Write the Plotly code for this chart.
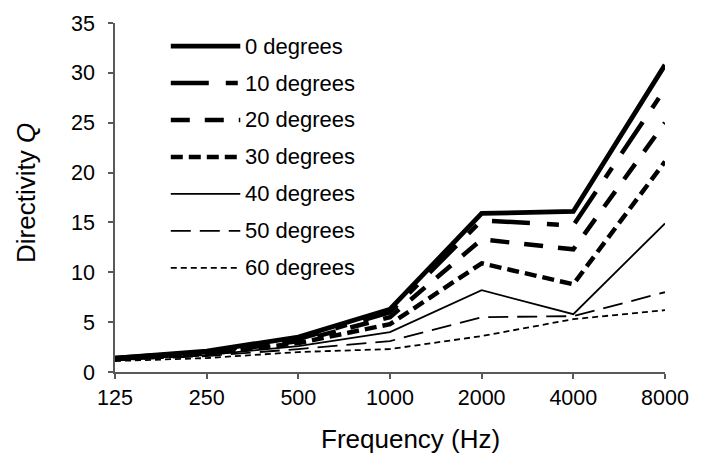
import plotly.graph_objects as go

freqs = ["125", "250", "500", "1000", "2000", "4000", "8000"]
names = ["0 degrees", "10 degrees", "20 degrees", "30 degrees",
         "40 degrees", "50 degrees", "60 degrees"]
q0 = [1.4, 2.1, 3.5, 6.3, 15.9, 16.1, 30.8]
q10 = [1.4, 2.0, 3.3, 6.0, 15.2, 14.7, 28.4]
q20 = [1.35, 1.9, 3.1, 5.5, 13.3, 12.3, 25.0]
q30 = [1.3, 1.8, 2.9, 4.8, 10.9, 8.8, 21.1]
q40 = [1.25, 1.7, 2.6, 4.0, 8.2, 5.8, 14.9]
q50 = [1.2, 1.6, 2.3, 3.1, 5.5, 5.6, 8.0]
q60 = [1.1, 1.4, 2.0, 2.3, 3.6, 5.3, 6.2]
series = [q0, q10, q20, q30, q40, q50, q60]
y_ticks = [0, 5, 10, 15, 20, 25, 30, 35]

styles = [
    dict(width=4.8, dash="solid"),
    dict(width=4.5, dash="38px,17px,12px,17px"),
    dict(width=4.5, dash="19px,15px"),
    dict(width=4.5, dash="12px,6px"),
    dict(width=1.8, dash="solid"),
    dict(width=1.8, dash="20px,9px"),
    dict(width=1.8, dash="6px,4px"),
]

FONT = "Arial, 'Liberation Sans', sans-serif"

fig = go.Figure()
for name, vals, st in zip(names, series, styles):
    fig.add_trace(go.Scatter(
        x=freqs, y=vals, mode="lines", name=name,
        line=dict(color="black", width=st["width"], dash=st["dash"]),
        showlegend=False,
    ))

# custom legend (long line samples like the original)
W, H = 701, 457
ml, mr, mt, mb = 115, 24, 19, 85
pw, ph = W - ml - mr, H - mt - mb
row0_px, row_step = 42.3, 37.4
shapes, annots = [], []
for i, (name, st) in enumerate(zip(names, styles)):
    py = row0_px + i * row_step
    yp = (H - mb - py) / ph
    shapes.append(dict(type="line", xref="paper", yref="paper",
                       x0=(172 - ml) / pw, x1=(243 - ml) / pw, y0=yp, y1=yp,
                       line=dict(color="black", width=st["width"], dash=st["dash"])))
    annots.append(dict(xref="paper", yref="paper", x=(246 - ml) / pw, y=yp,
                       text=name, showarrow=False, xanchor="left", yanchor="middle",
                       font=dict(family=FONT, size=22, color="black")))

# axis titles as annotations (placed like the original)
annots.append(dict(xref="paper", yref="paper", x=(417 - ml) / pw,
                   y=(H - mb - 440) / ph, text="Frequency (Hz)", showarrow=False,
                   xanchor="center", yanchor="middle",
                   font=dict(family=FONT, size=26, color="black")))
annots.append(dict(xref="paper", yref="paper", x=(24 - ml) / pw,
                   y=(H - mb - 191) / ph, text="Directivity <i>Q</i>", showarrow=False,
                   xanchor="center", yanchor="middle", textangle=-90,
                   font=dict(family=FONT, size=26, color="black")))

axis_common = dict(
    showline=True, linecolor="#595959", linewidth=1.5,
    ticks="outside", ticklen=5, tickcolor="#595959", tickwidth=1.5,
    showgrid=False, zeroline=False,
    tickfont=dict(family=FONT, size=21.5, color="black"),
)

fig.update_layout(
    width=W, height=H,
    margin=dict(l=ml, r=mr, t=mt, b=mb),
    paper_bgcolor="white", plot_bgcolor="white",
    shapes=shapes, annotations=annots,
    xaxis=dict(type="category", range=[0, 6], categoryorder="array",
               categoryarray=freqs, **axis_common),
    yaxis=dict(range=[0, 35], tickvals=y_ticks, ticklabelstandoff=9,
               **axis_common),
)

fig.write_html("out.html")
